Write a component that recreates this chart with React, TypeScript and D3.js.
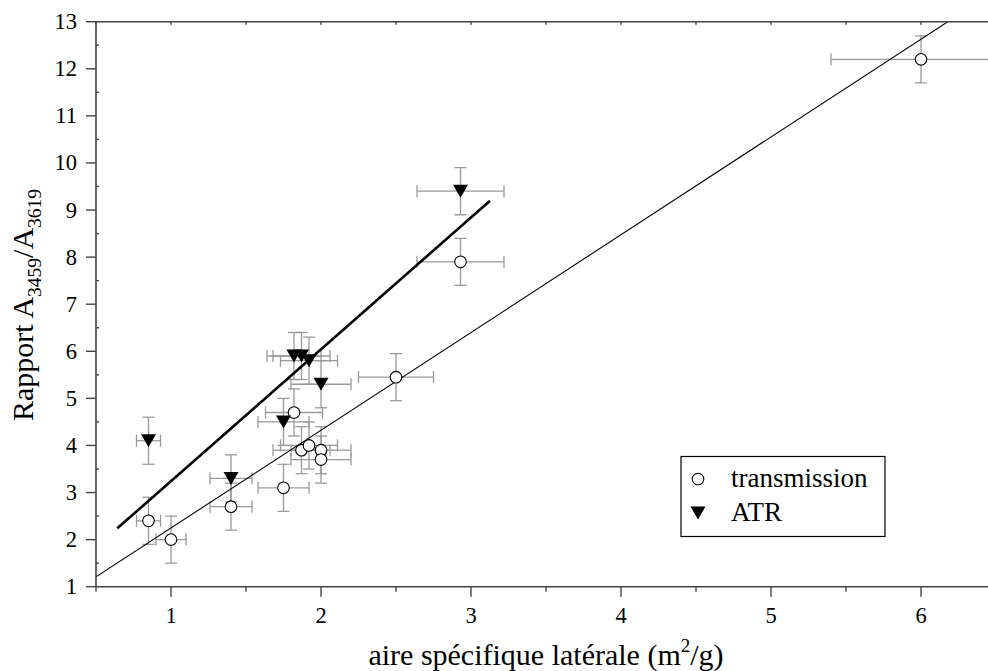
import React from 'react';
import * as d3 from 'd3';

// transmission series (open circles)
const transX = [0.85, 1.0, 1.4, 1.75, 1.82, 1.87, 1.92, 2.0, 2.0, 2.5, 2.93, 6.0];
const transY = [2.4, 2.0, 2.7, 3.1, 4.7, 3.9, 4.0, 3.9, 3.7, 5.45, 7.9, 12.2];
const transXErr = [0.08, 0.1, 0.14, 0.17, 0.19, 0.19, 0.19, 0.2, 0.2, 0.25, 0.29, 0.6];
const transYErr = [0.5, 0.5, 0.5, 0.5, 0.5, 0.5, 0.5, 0.5, 0.5, 0.5, 0.5, 0.5];

// ATR series (filled down triangles)
const atrX = [0.85, 1.4, 1.75, 1.82, 1.87, 1.92, 2.0, 2.93];
const atrY = [4.1, 3.3, 4.5, 5.9, 5.9, 5.8, 5.3, 9.4];
const atrXErr = [0.08, 0.14, 0.17, 0.18, 0.19, 0.19, 0.2, 0.29];
const atrYErr = [0.5, 0.5, 0.5, 0.5, 0.5, 0.5, 0.5, 0.5];

// linear fits: [intercept, slope], [xStart, xEnd]
const transFit = [0.172, 2.076];
const transFitRange = [0.5, 6.5];
const atrFit = [0.442, 2.8];
const atrFitRange = [0.642, 3.127];

const xTicks = [1, 2, 3, 4, 5, 6];
const xMinor = [0.5, 1.5, 2.5, 3.5, 4.5, 5.5, 6.5];
const yTicks = [1, 2, 3, 4, 5, 6, 7, 8, 9, 10, 11, 12, 13];
const yMinor = [1.5, 2.5, 3.5, 4.5, 5.5, 6.5, 7.5, 8.5, 9.5, 10.5, 11.5, 12.5];

const W = 988;
const H = 671;
const FONT = '"Liberation Serif", "Times New Roman", serif';
const AXIS = '#444';
const ERR = '#9a9a9a';

const x = d3.scaleLinear().domain([0.5, 6.5]).range([96, 996]);
const y = d3.scaleLinear().domain([1, 13]).range([586.7, 21.7]);

const tri = 'M-7.5,-6.5L7.5,-6.5L0,6.5Z';

function ErrorBars({ xs, ys, xe, ye }: { xs: number[]; ys: number[]; xe: number[]; ye: number[] }) {
  const cap = 6;
  return (
    <g stroke={ERR} strokeWidth={1.3} fill="none">
      {xs.map((xv, i) => {
        const cx = x(xv);
        const cy = y(ys[i]);
        const x0 = x(xv - xe[i]);
        const x1 = x(xv + xe[i]);
        const y0 = y(ys[i] - ye[i]);
        const y1 = y(ys[i] + ye[i]);
        return (
          <g key={i}>
            <line x1={x0} x2={x1} y1={cy} y2={cy} />
            <line x1={x0} x2={x0} y1={cy - cap} y2={cy + cap} />
            <line x1={x1} x2={x1} y1={cy - cap} y2={cy + cap} />
            <line x1={cx} x2={cx} y1={y0} y2={y1} />
            <line x1={cx - cap} x2={cx + cap} y1={y0} y2={y0} />
            <line x1={cx - cap} x2={cx + cap} y1={y1} y2={y1} />
          </g>
        );
      })}
    </g>
  );
}

export default function App() {
  const [x0, x1] = x.range();
  const [yb, yt] = y.range();
  const fitLine = (fit: number[], range: number[]) =>
    d3.line<number>().x(d => x(d)).y(d => y(fit[0] + fit[1] * d))(range) as string;

  return (
    <svg
      width={W}
      height={H}
      style={{ position: 'absolute', left: 0, top: 0, background: '#fff' }}
      fontFamily={FONT}
    >
      <defs>
        <clipPath id="plot">
          <rect x={x0} y={yt} width={x1 - x0} height={yb - yt} />
        </clipPath>
      </defs>

      <g clipPath="url(#plot)">
        <ErrorBars xs={transX} ys={transY} xe={transXErr} ye={transYErr} />
        <ErrorBars xs={atrX} ys={atrY} xe={atrXErr} ye={atrYErr} />
        <path d={fitLine(transFit, transFitRange)} stroke="#000" strokeWidth={1.1} fill="none" />
        <path d={fitLine(atrFit, atrFitRange)} stroke="#000" strokeWidth={2.6} fill="none" />
        {transX.map((xv, i) => (
          <circle key={i} cx={x(xv)} cy={y(transY[i])} r={5.8} fill="#fff" stroke="#000" strokeWidth={1.1} />
        ))}
        {atrX.map((xv, i) => (
          <path key={i} d={tri} transform={`translate(${x(xv)},${y(atrY[i])})`} fill="#000" />
        ))}
      </g>

      {/* frame */}
      <g stroke={AXIS} strokeWidth={1.6} fill="none">
        <line x1={x0} x2={x1} y1={yb} y2={yb} />
        <line x1={x0} x2={x1} y1={yt} y2={yt} />
        <line x1={x0} x2={x0} y1={yb} y2={yt} />
        <line x1={x1} x2={x1} y1={yb} y2={yt} />
      </g>

      {/* bottom axis */}
      <g stroke={AXIS} strokeWidth={1.4}>
        {xTicks.map(t => (
          <line key={t} x1={x(t)} x2={x(t)} y1={yb} y2={yb + 10} />
        ))}
        {xMinor.map(t => (
          <line key={t} x1={x(t)} x2={x(t)} y1={yb} y2={yb + 5} />
        ))}
        {xTicks.concat(xMinor).map(t => (
          <line key={'t' + t} x1={x(t)} x2={x(t)} y1={yt} y2={yt + 3} />
        ))}
      </g>
      <g fontSize={22.5} textAnchor="middle" fill="#000">
        {xTicks.map(t => (
          <text key={t} x={x(t)} y={yb + 36}>
            {d3.format('d')(t)}
          </text>
        ))}
      </g>

      {/* left axis */}
      <g stroke={AXIS} strokeWidth={1.4}>
        {yTicks.map(t => (
          <line key={t} x1={x0 - 10} x2={x0} y1={y(t)} y2={y(t)} />
        ))}
        {yMinor.map(t => (
          <line key={t} x1={x0} x2={x0 + 3} y1={y(t)} y2={y(t)} />
        ))}
      </g>
      <g fontSize={22.5} textAnchor="end" fill="#000">
        {yTicks.map(t => (
          <text key={t} x={x0 - 19} y={y(t) + 7.5}>
            {d3.format('d')(t)}
          </text>
        ))}
      </g>

      {/* axis titles */}
      <text x={(x0 + x1) / 2} y={665} fontSize={30} textAnchor="middle" fill="#000">
        aire spécifique latérale (m
        <tspan fontSize={19} dy={-13}>2</tspan>
        <tspan dy={13}>/g)</tspan>
      </text>
      <text transform="translate(33,305) rotate(-90)" fontSize={30} textAnchor="middle" fill="#000">
        Rapport A
        <tspan fontSize={19.5} dy={8}>3459</tspan>
        <tspan dy={-8}>/A</tspan>
        <tspan fontSize={19.5} dy={8}>3619</tspan>
      </text>

      {/* legend */}
      <g>
        <rect x={681} y={456.5} width={204} height={80} fill="#fff" stroke="#000" strokeWidth={1.2} />
        <circle cx={698} cy={479} r={5.8} fill="#fff" stroke="#000" strokeWidth={1.1} />
        <path d={tri} transform="translate(698,513)" fill="#000" />
        <text x={731} y={487} fontSize={27} fill="#000">transmission</text>
        <text x={731} y={521} fontSize={27} fill="#000">ATR</text>
      </g>
    </svg>
  );
}
